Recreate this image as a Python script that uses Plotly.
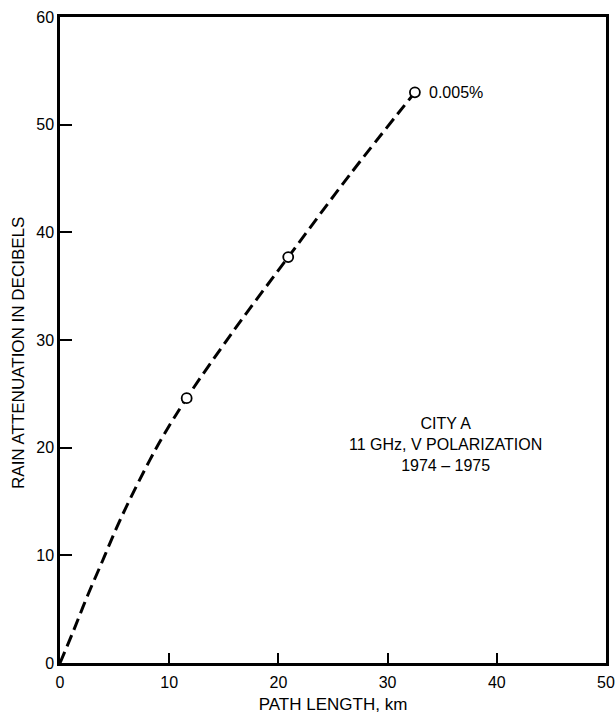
import plotly.graph_objects as go

# Curve (dashed) values
curve_x = [0, 1.2, 2.5, 3.9, 5.2, 6.4, 8.2, 9.4, 11.6, 16.0, 20.9, 26.5, 32.5]
curve_y = [0, 2.9, 6.2, 9.5, 12.6, 15.2, 18.8, 21.0, 24.6, 31.0, 37.7, 45.3, 53.0]

# Circled data points
pt_x = [11.6, 20.9, 32.5]
pt_y = [24.6, 37.7, 53.0]
pt_label = "0.005%"

x_ticks = [0, 10, 20, 30, 40, 50]
y_ticks = [0, 10, 20, 30, 40, 50, 60]

note_text = "CITY A<br>11 GHz, V POLARIZATION<br>1974 \u2013 1975"
note_x = 35.3
note_y = 20.3

font = "Liberation Sans, Arial, Helvetica, sans-serif"

fig = go.Figure()
fig.add_trace(go.Scatter(
    x=curve_x, y=curve_y, mode="lines",
    line=dict(color="black", width=3, dash="12px,6px", shape="spline"),
    hoverinfo="skip", showlegend=False))
fig.add_trace(go.Scatter(
    x=pt_x, y=pt_y, mode="markers",
    marker=dict(symbol="circle", size=10, color="white",
                line=dict(color="black", width=1.8)),
    showlegend=False))

fig.add_annotation(x=pt_x[-1], y=pt_y[-1], text=pt_label, showarrow=False,
                   xanchor="left", xshift=12, font=dict(family=font, size=16, color="black"))
fig.add_annotation(x=note_x, y=note_y, text=note_text, showarrow=False,
                   xanchor="center", yanchor="middle", align="center",
                   font=dict(family=font, size=16, color="black"))

# y-axis title placed as rotated text, slightly below the plot centre as in the original
fig.add_annotation(xref="paper", yref="paper", x=-0.075, y=0.48,
                   text="RAIN ATTENUATION IN DECIBELS", textangle=-90,
                   showarrow=False, xanchor="center", yanchor="middle",
                   font=dict(family=font, size=17, color="black"))

fig.update_layout(
    width=616, height=714,
    margin=dict(l=60, r=10, t=17, b=51, autoexpand=False),
    paper_bgcolor="white", plot_bgcolor="white",
    font=dict(family=font, size=16, color="black"),
)
fig.update_xaxes(
    range=[0, 50], tickvals=x_ticks, ticktext=[str(v) for v in x_ticks],
    ticks="inside", ticklen=10, tickwidth=2, tickcolor="black",
    showline=True, linecolor="black", linewidth=2.5, mirror=True,
    showgrid=False, zeroline=False, ticklabeloverflow="allow",
    automargin=False, ticklabelstandoff=3,
    title=dict(text="PATH LENGTH, km", font=dict(family=font, size=17), standoff=17),
    tickfont=dict(family=font, size=16),
)
fig.update_yaxes(
    range=[0, 60], tickvals=y_ticks, ticktext=[str(v) for v in y_ticks],
    ticks="inside", ticklen=12, tickwidth=2, tickcolor="black",
    showline=True, linecolor="black", linewidth=2.5, mirror=True,
    showgrid=False, zeroline=False, ticklabeloverflow="allow",
    automargin=False,
    tickfont=dict(family=font, size=16),
)

fig.write_html("out.html")
